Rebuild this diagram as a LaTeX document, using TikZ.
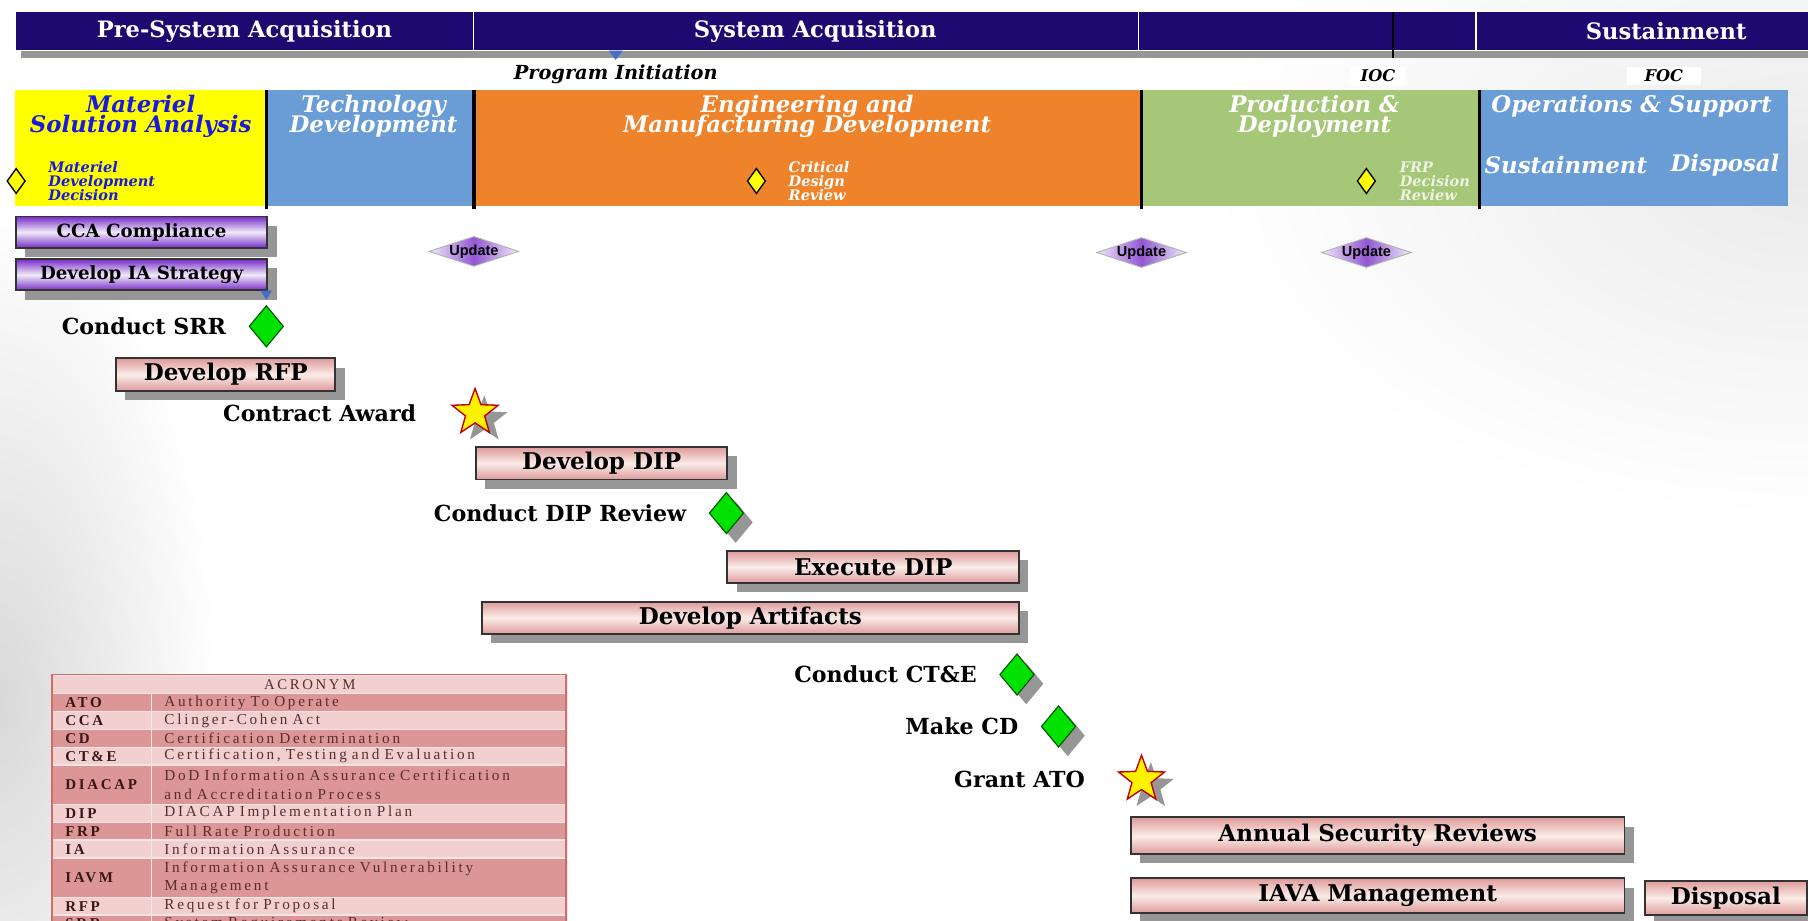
\documentclass[tikz,border=0pt]{standalone}
\usepackage{fontspec}
\setmainfont{DejaVu Serif}
\newfontfamily\updfont{Liberation Sans}
\newfontfamily\acrfont[LetterSpace=18]{Liberation Serif}
\usepackage{tikz}
\usetikzlibrary{shapes.geometric, shadows, positioning}
\definecolor{hdrnavy}{RGB}{29,9,112}
\definecolor{msayellow}{RGB}{255,255,0}
\definecolor{msablue}{RGB}{25,25,225}
\definecolor{phblue}{RGB}{106,156,214}
\definecolor{phorange}{RGB}{239,131,43}
\definecolor{phgreen}{RGB}{166,198,120}
\definecolor{markblue}{RGB}{70,110,200}
\definecolor{iapurple}{RGB}{118,45,200}
\definecolor{iapale}{RGB}{242,234,250}
\definecolor{taskpink}{RGB}{222,155,155}
\definecolor{taskpale}{RGB}{250,236,232}
\definecolor{gategreen}{RGB}{0,225,0}
\definecolor{shadowgray}{RGB}{150,150,150}
\definecolor{acrdark}{RGB}{221,150,150}
\definecolor{acrlight}{RGB}{243,208,208}
\definecolor{acrline}{RGB}{250,228,228}
\definecolor{acrborder}{RGB}{205,110,110}
\definecolor{acrab}{RGB}{55,22,22}
\definecolor{acrdesc}{RGB}{90,45,45}
\tikzstyle{hdrbox} = [rectangle, fill=hdrnavy, draw=white, line width=0.5pt,
minimum height=17pt, inner sep=0pt, text=white,
font=\fontsize{9.8}{11}\selectfont\bfseries]
\tikzstyle{phasebox} = [rectangle, minimum height=50.5pt, inner sep=0pt]
\tikzstyle{phasename} = [align=center, text=white, inner sep=0pt,
font={\fontsize{9.9}{8.7}\selectfont\bfseries\itshape\lineskiplimit=-6pt}]
\tikzstyle{mdnote} = [align=left, text=white, inner sep=0pt,
font={\fontsize{6.3}{6}\selectfont\bfseries\itshape\lineskiplimit=-6pt}]
\tikzstyle{ydiamond} = [diamond, fill=msayellow, draw=black, line width=0.6pt,
minimum width=8pt, minimum height=11pt, inner sep=0pt]
\tikzstyle{iabar} = [rectangle, draw=black!80, line width=0.8pt,
top color=iapurple, bottom color=iapurple, middle color=iapale,
drop shadow={shadow xshift=4pt, shadow yshift=-4pt, fill=shadowgray, opacity=1},
minimum width=109pt, minimum height=13.5pt, inner sep=0pt,
font=\fontsize{7.9}{9}\selectfont\bfseries]
\tikzstyle{taskbar} = [rectangle, draw=black!80, line width=0.8pt,
top color=taskpink, bottom color=taskpink, middle color=taskpale,
drop shadow={shadow xshift=4pt, shadow yshift=-4pt, fill=shadowgray, opacity=1},
minimum height=14pt, inner sep=0pt, font=\fontsize{10}{12}\selectfont\bfseries]
\tikzstyle{gate} = [diamond, fill=gategreen, draw=green!35!black, line width=0.5pt,
minimum width=15pt, minimum height=18pt, inner sep=0pt]
\tikzstyle{gateshd} = [gate,
drop shadow={shadow xshift=4pt, shadow yshift=-4pt, fill=shadowgray, opacity=1}]
\tikzstyle{award} = [star, star points=5, star point ratio=2.4, fill=yellow,
draw=red!75!black, line width=0.6pt, minimum size=21pt, inner sep=0pt,
drop shadow={shadow xshift=4pt, shadow yshift=-3pt, fill=shadowgray, opacity=1}]
\tikzstyle{steplabel} = [inner sep=0pt, font=\fontsize{9.6}{11}\selectfont\bfseries]
\tikzstyle{updbox} = [diamond, aspect=3, draw=gray!60, line width=0.4pt,
left color=iapale, right color=iapale, middle color=iapurple!80,
inner sep=0pt, font=\updfont\fontsize{6.3}{7}\selectfont\bfseries]
\tikzstyle{acrcell} = [rectangle, draw=acrline, line width=0.6pt, inner xsep=5.5pt,
inner ysep=0pt, align=left, anchor=north west]

\begin{document}
\begin{tikzpicture}[x=0.5pt, y=-0.5pt]
    \useasboundingbox (0,0) rectangle (1568,798);
    \clip (0,0) rectangle (1568,798);
    \fill[white] (0,0) rectangle (1568,798);
    \shade[inner color=gray!30, outer color=white] (0,610) ellipse (190 and 430);
    \shade[inner color=gray!16, outer color=white] (1568,150) ellipse (520 and 300);

    \fill[shadowgray] (18,44) rectangle (1568,50);
    \node (presys) [hdrbox, minimum width=199pt] at (212,27) {Pre-System Acquisition};
    \node (sysacq) [hdrbox, minimum width=288pt] at (699,27) {\hspace*{8pt}System Acquisition};
    \node (prodhdr) [hdrbox, minimum width=146.5pt] at (1133.5,27) {};
    \node (sustain) [hdrbox, minimum width=165pt] at (1445,27) {Sustainment};
    \draw[black, line width=1.2pt] (1208,10) -- (1208,50);
    \fill[markblue] (528,44) -- (540,44) -- (534,52) -- cycle;

    \node (pinit) [font=\fontsize{8.4}{10}\selectfont\bfseries\itshape] at (534,64) {Program Initiation};
    \node (ioc) [fill=white, minimum width=24pt, minimum height=8pt, inner sep=0pt,
    font=\fontsize{7}{8}\selectfont\bfseries\itshape] at (1195,66) {IOC};
    \node (foc) [fill=white, minimum width=32pt, minimum height=8pt, inner sep=0pt,
    font=\fontsize{7}{8}\selectfont\bfseries\itshape] at (1443,66) {FOC};

    \node (msa) [phasebox, fill=msayellow, minimum width=109pt] at (122,128.5) {};
    \node (td) [phasebox, fill=phblue, minimum width=90pt] at (321,128.5) {};
    \node (emd) [phasebox, fill=phorange, minimum width=289.5pt] at (700.5,128.5) {};
    \node (pd) [phasebox, fill=phgreen, minimum width=146.5pt] at (1136.5,128.5) {};
    \node (os) [phasebox, fill=phblue, minimum width=134pt] at (1417,128.5) {};
    \foreach \x in {231,411,990,1283}
        \draw[black, line width=1.4pt] (\x,78) -- (\x,181);

    \node (msaname) [phasename, text=msablue] at (122,101) {Materiel\\Solution Analysis};
    \node (tdname) [phasename] at (324,101) {Technology\\Development};
    \node (emdname) [phasename] at (700,101) {Engineering and\\Manufacturing Development};
    \node (pdname) [phasename] at (1140,101) {Production \&\\Deployment};
    \node (osname) [phasename] at (1415,92) {Operations \& Support};
    \node (susname) [phasename] at (1358,143) {Sustainment};
    \node (dspname) [phasename] at (1496,143) {Disposal};

    \node (mdd) [ydiamond] at (14,157) {};
    \node (mddnote) [mdnote, text=msablue, right=9.5pt of mdd] {Materiel\\Development\\Decision};
    \node (cdr) [ydiamond] at (656,157) {};
    \node (cdrnote) [mdnote, right=9.5pt of cdr] {Critical\\Design\\Review};
    \node (frp) [ydiamond] at (1185,157) {};
    \node (frpnote) [mdnote, text=white!80!phgreen, right=10pt of frp] {FRP\\Decision\\Review};

    \node (cca) [iabar, anchor=north west] at (13,187) {CCA Compliance};
    \node (iastrat) [iabar, anchor=north west] at (13,224) {Develop IA Strategy};
    \fill[markblue] (226,252) -- (236,252) -- (231,260) -- cycle;

    \node (upd1) [updbox] at (411,218) {Update};
    \node (upd2) [updbox] at (990,219) {Update};
    \node (upd3) [updbox] at (1185,219) {Update};

    \node (srr) [gate] at (231,283) {};
    \node (srrlbl) [steplabel, left=9.5pt of srr] {Conduct SRR};
    \node (rfp) [taskbar, minimum width=95pt, anchor=north west] at (100,310) {Develop RFP};
    \node (caw) [award] at (412,358) {};
    \node (cawlbl) [steplabel, left=19pt of caw] {Contract Award};
    \node (ddip) [taskbar, minimum width=109pt, anchor=north west] at (412,387) {Develop DIP};
    \node (dipr) [gateshd] at (630,445) {};
    \node (diprlbl) [steplabel, left=9.5pt of dipr] {Conduct DIP Review};
    \node (xdip) [taskbar, minimum width=126.5pt, anchor=north west] at (630,477) {Execute DIP};
    \node (arti) [taskbar, minimum width=233pt, anchor=north west] at (417,521) {Develop Artifacts};
    \node (cte) [gateshd] at (882,585) {};
    \node (ctelbl) [steplabel, left=9.5pt of cte] {Conduct CT\&E};
    \node (mcd) [gateshd] at (918,630) {};
    \node (mcdlbl) [steplabel, left=9.5pt of mcd] {Make CD};
    \node (gato) [award] at (990,676) {};
    \node (gatolbl) [steplabel, left=18pt of gato] {Grant ATO};
    \node (asr) [taskbar, minimum width=214pt, minimum height=16pt, anchor=north west]
    at (980,708) {Annual Security Reviews};
    \node (iava) [taskbar, minimum width=214pt, minimum height=15pt, anchor=north west]
    at (980,761) {IAVA Management};
    \node (disp) [taskbar, minimum width=70pt, minimum height=15pt, anchor=north west]
    at (1426,763) {Disposal};

    \node (acrhead) [acrcell, fill=acrlight, minimum width=223pt, minimum height=8pt,
    align=center, text=acrdesc, font=\acrfont\fontsize{6.4}{8}\selectfont] at (45,585) {ACRONYM};
    \foreach \ab/\desc/\yt/\h/\rowc [count=\i] in {
        ATO/Authority To Operate/601/7.75/acrdark,
        CCA/Clinger-Cohen Act/616.5/7.75/acrlight,
        CD/Certification Determination/632/7.75/acrdark,
        CT\&E/{Certification, Testing and Evaluation}/647.5/7.75/acrlight,
        DIACAP/{DoD Information Assurance Certification\\and Accreditation Process}/663/17/acrdark,
        DIP/DIACAP Implementation Plan/697/7.75/acrlight,
        FRP/Full Rate Production/712.5/7.75/acrdark,
        IA/Information Assurance/728/7.75/acrlight,
        IAVM/{Information Assurance Vulnerability\\Management}/743.5/17/acrdark,
        RFP/Request for Proposal/777.5/7.75/acrlight,
        SRR/System Requirements Review/793/7.75/acrdark}
    {
        \node (acrab\i) [acrcell, fill=\rowc, minimum width=43pt, minimum height=\h pt,
        text width=32pt, text=acrab, font=\acrfont\fontsize{6.5}{8}\selectfont\bfseries]
        at (45,\yt) {\ab};
        \node (acrds\i) [acrcell, fill=\rowc, minimum width=180pt, minimum height=\h pt,
        text width=169pt, text=acrdesc, font=\acrfont\fontsize{6.6}{8}\selectfont]
        at (131,\yt) {\desc};
    }
    \draw[acrborder, line width=0.8pt] (45,585) rectangle (491,812);
\end{tikzpicture}
\end{document}
